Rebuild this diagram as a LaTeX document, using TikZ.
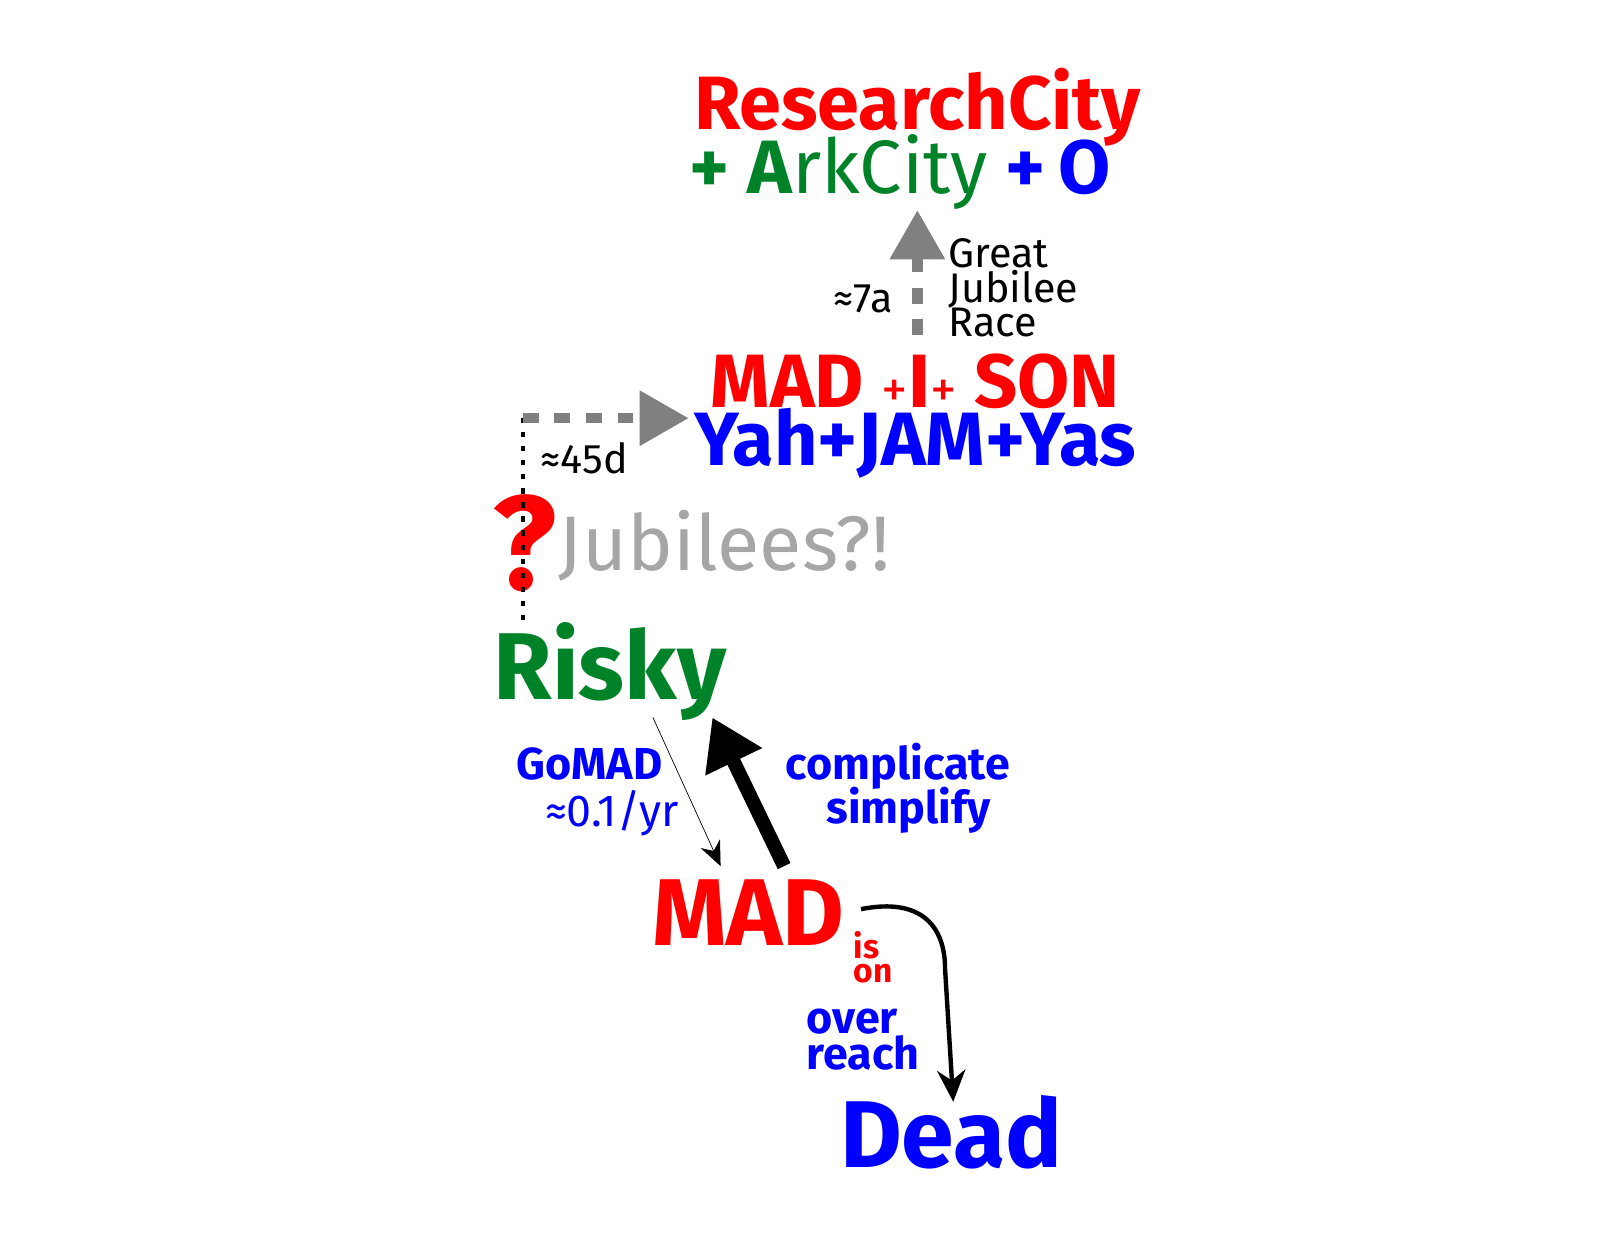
\documentclass[tikz,border=0pt]{standalone}
\usepackage{fontspec}
\setmainfont{Fira Sans}
\usetikzlibrary{arrows.meta}
\definecolor{fgreen}{RGB}{0,130,40}
\newcommand{\fs}[1]{\fontsize{#1}{#1}\selectfont}

\begin{document}
\begin{tikzpicture}[
    x=0.0205cm, y=-0.0205cm,
    all/.style={inner sep=0pt, anchor=center},
    big/.style={all, font=\bfseries\fs{54}},
    head/.style={all, font=\bfseries\fs{43}},
    small/.style={all, font=\fs{23.5}},
    note/.style={all, font=\bfseries\fs{25.5}, text=blue, align=left},
    grayarrow/.style={draw=gray, line width=6pt, dash pattern=on 9pt off 9pt,
        -{Triangle[length=28pt, width=30pt]}},
]
    \useasboundingbox (0,0) rectangle (1561,1207);
    % top goal
    \node [head, text=red] (rc) at (895,105) {ResearchCity};
    \node [head] (ark) at (878,168) {\textcolor{fgreen}{+ A\mdseries rkCity}
        \textcolor{blue}{+\,O}};
    % jubilee race
    \node [head, text=red] (mis) at (893,372) {MAD \mdseries\fs{30}+\bfseries\fs{43}I\mdseries\fs{30}+\bfseries\fs{43} SON};
    \node [head, text=blue] (yah) at (893,432) {Yah+JAM+Yas};
    \coordinate (up) at (895,327);
    \coordinate (top) at (895,205);
    \draw [grayarrow] (up) -- (top);
    \node [small] (seven) at (842,292) {≈7a};
    \node [small, align=left, anchor=west] (race) at (925,281)
        {Great\\[-4pt]Jubilee\\[-4pt]Race};
    % jubilees
    \node [all, text=red, font=\bfseries\fs{76}] (q) at (512,530) {?};
    \node [all, text=gray!70, font=\fs{44}, anchor=west] (jub) at (545,532) {Jubilees?!};
    \coordinate (corner) at (510,408);
    \coordinate (low) at (510,605);
    \coordinate (tip) at (672,408);
    \draw [black, line width=2.5pt, dash pattern=on 3pt off 5pt] (low) -- (corner);
    \draw [grayarrow] (corner) -- (tip);
    \node [small] (days) at (570,447) {≈45d};
    % cycle
    \node [big, text=fgreen] (risky) at (595,655) {Risky};
    \node [big, text=red] (mad) at (730,890) {MAD};
    \node [big, text=blue] (dead) at (928,1105) {Dead};
    \coordinate (r1) at (637,700);
    \coordinate (m1) at (703,845);
    \coordinate (m2) at (765,845);
    \coordinate (r2) at (695,700);
    \draw [thin, -{Stealth[length=14pt, width=12pt]}] (r1) -- (m1);
    \draw [line width=8pt, -{Triangle[length=28pt, width=34pt]}] (m2) -- (r2);
    \node [note] (go) at (575,745) {GoMAD};
    \node [all, text=blue, font=\fs{25.5}] (rate) at (597,793) {≈0.1/yr};
    \node [note, align=center] (cs) at (876,769) {complicate\\[-2pt]\hspace{12pt}simplify};
    \node [all, text=red, font=\bfseries\fs{19}, align=left] (ison) at (852,934) {is\\[-5pt]on};
    \node [note] (over) at (842,1014) {over\\[-5pt]reach};
    \coordinate (c1) at (840,887);
    \coordinate (d1) at (930,1075);
    \draw [line width=2.5pt, -{Stealth[length=18pt, width=16pt]}]
        (c1) .. controls (900,875) and (922,905) .. (922,945) -- (d1);
\end{tikzpicture}
\end{document}
